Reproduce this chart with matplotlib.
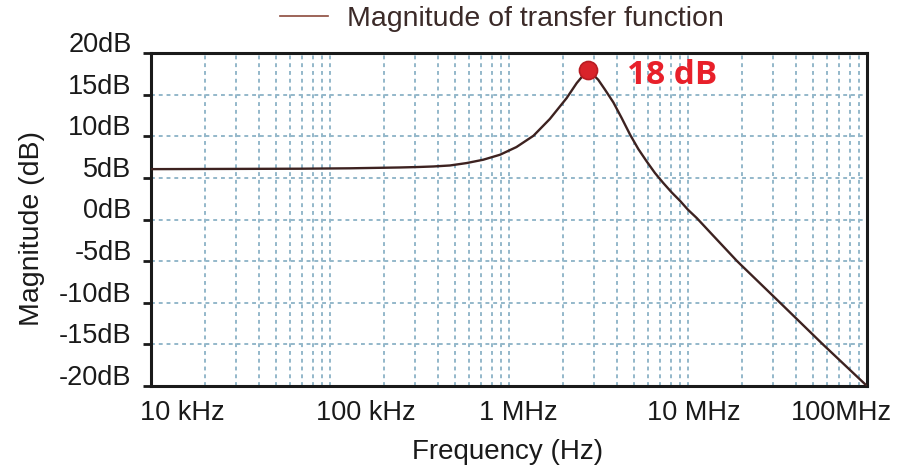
import matplotlib
matplotlib.use("Agg")
import matplotlib.pyplot as plt
from matplotlib.transforms import ScaledTranslation

plt.rcParams['font.family'] = ['Liberation Sans', 'DejaVu Sans']

# magnitude response (Hz, dB)
freq_hz = [1.0e4, 6.79e4, 1.29e5, 2.46e5, 3.05e5, 3.78e5, 4.68e5, 5.80e5,
           7.18e5, 8.91e5, 1.10e6, 1.37e6, 1.69e6, 2.10e6, 2.39e6, 2.76e6,
           3.15e6, 3.44e6, 3.83e6, 4.26e6, 4.75e6, 5.28e6, 5.88e6, 6.54e6,
           7.28e6, 8.11e6, 9.02e6, 1.00e7, 1.12e7, 1.38e7, 1.88e7,
           3.27e7, 5.67e7, 1.0e8]
mag_db = [6.05, 6.1, 6.15, 6.25, 6.3, 6.37, 6.49, 6.78,
          7.18, 7.78, 8.7, 10.06, 12.07, 14.59, 16.39, 18.0,
          16.79, 15.59, 14.06, 12.19, 10.18, 8.46, 6.97, 5.58,
          4.38, 3.25, 2.25, 1.17, 0.17, -1.92, -5.0,
          -10.0, -15.0, -20.0]

peak_freq = 2.76e6
peak_db = 18

x_ticks = [1e4, 1e5, 1e6, 1e7, 1e8]
x_labels = ['10 kHz', '100 kHz', '1 MHz', '10 MHz', '100MHz']
x_label_shift_px = [31, 36, 9, 6, -26]
y_ticks = [20, 15, 10, 5, 0, -5, -10, -15, -20]
y_labels = [f'{v}dB' for v in y_ticks]

fig = plt.figure(figsize=(9.12, 4.67), dpi=100)
ax = fig.add_axes([151 / 912, 1 - 386 / 467, 716 / 912, 333 / 467])

line, = ax.semilogx(freq_hz, mag_db, color='#3d2220', lw=1.7,
                    label='Magnitude of transfer function', zorder=3)
ax.plot([peak_freq], [peak_db], 'o', ms=13, mfc='#d9232a', mec='#b81c22',
        mew=1.2, zorder=5)
ax.annotate(f'{peak_db} dB', xy=(peak_freq, peak_db), xytext=(28, -4),
            textcoords='offset points', ha='left', va='center',
            fontsize=24, fontweight='bold', color='#e8202a',
            family=['Open Sans', 'DejaVu Sans'])

ax.set_xlim(1e4, 1e8)
ax.set_ylim(-20, 20)

# grid: every decade subdivision on x, 5 dB steps on y
ax.set_xticks(x_ticks)
ax.set_xticklabels(x_labels)
ax.set_yticks(y_ticks)
ax.set_yticklabels(y_labels)
ax.grid(True, which='both', axis='x', color='#94b8ca', ls=(0, (2, 2)), lw=1.4)
ax.grid(True, which='major', axis='y', color='#94b8ca', ls=(0, (2, 2)), lw=1.4)
ax.set_axisbelow(True)

ax.tick_params(axis='x', which='both', length=0, pad=10, labelsize=19.5,
               labelcolor='#1a1a1a')
ax.tick_params(axis='y', length=6, width=2, pad=8, labelsize=19.5,
               labelcolor='#1a1a1a', color='#1a1a1a')

for spine in ax.spines.values():
    spine.set_linewidth(2.2)
    spine.set_color('#1a1a1a')

# nudge tick labels so they sit where the original tool put them
for lbl, dx in zip(ax.get_xticklabels(), x_label_shift_px):
    lbl.set_transform(lbl.get_transform()
                      + ScaledTranslation(dx / 100, 0, fig.dpi_scale_trans))
for lbl in ax.get_yticklabels():
    lbl.set_transform(lbl.get_transform()
                      + ScaledTranslation(0, 11 / 100, fig.dpi_scale_trans))

fig.text(508 / 912, 1 - 452 / 467, 'Frequency (Hz)', ha='center', va='center',
         fontsize=20, color='#1a1a1a')
fig.text(32 / 912, 1 - 228 / 467, 'Magnitude (dB)', ha='center', va='center',
         rotation=90, fontsize=20.5, color='#1a1a1a')

leg = fig.legend(handles=[line], loc='center left',
                 bbox_to_anchor=(280 / 912, 1 - 19 / 467), frameon=False,
                 fontsize=20.5, handlelength=1.7, handletextpad=0.65,
                 borderpad=0, borderaxespad=0)
leg.get_lines()[0].set_color('#8c4a3c')
leg.get_lines()[0].set_linewidth(1.2)
for t in leg.get_texts():
    t.set_color('#3b2a28')

fig.savefig('out.png', dpi=100)
